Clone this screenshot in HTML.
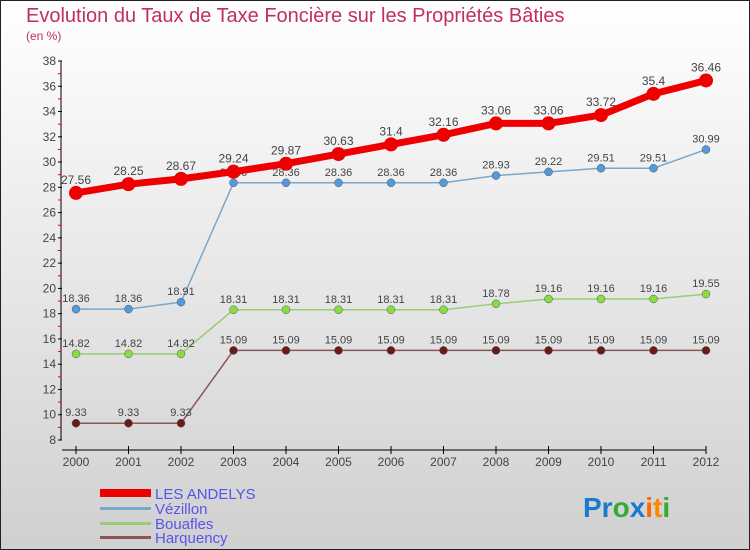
<!DOCTYPE html>
<html><head><meta charset="utf-8"><style>
body{margin:0}
svg{display:block;font-family:"Liberation Sans",sans-serif}
</style></head><body>
<svg id="c" width="750" height="550" xmlns="http://www.w3.org/2000/svg">
<defs><linearGradient id="bg" x1="0" y1="0" x2="0" y2="1"><stop offset="0" stop-color="#ffffff"/><stop offset="1" stop-color="#d0d0d0"/></linearGradient></defs>
<rect x="0.5" y="0.5" width="749" height="549" fill="url(#bg)" stroke="#222"/>
<text x="26" y="22" font-size="20" fill="#c0305a">Evolution du Taux de Taxe Foncière sur les Propriétés Bâties</text>
<text x="26" y="40" font-size="12" fill="#c0305a">(en %)</text>
<g id="axes"></g><g id="series"></g>
<g>
<rect x="100" y="489" width="51" height="8" fill="#e00"/>
<text x="155" y="499" font-size="15" fill="#5555ee">LES ANDELYS</text>
<rect x="100" y="507" width="51" height="3" fill="#7aa8cc"/>
<text x="155" y="514" font-size="15" fill="#5555ee">Vézillon</text>
<rect x="100" y="522" width="51" height="3" fill="#99cc77"/>
<text x="155" y="529" font-size="15" fill="#5555ee">Bouafles</text>
<rect x="100" y="536" width="51" height="3" fill="#8b5555"/>
<text x="155" y="543" font-size="15" fill="#5555ee">Harquency</text>
</g>
<g font-size="28" font-weight="bold">
<text x="583" y="517"><tspan fill="#1a7ad0">Pr</tspan><tspan fill="#33aa33">o</tspan><tspan fill="#1a7ad0">x</tspan><tspan fill="#ff6600">i</tspan><tspan fill="#ff8800">t</tspan><tspan fill="#33aa33">i</tspan></text>
</g>
</svg>
<script>
const years=[2000,2001,2002,2003,2004,2005,2006,2007,2008,2009,2010,2011,2012];
const yTicks=[8,10,12,14,16,18,20,22,24,26,28,30,32,34,36,38];
const andelys=[27.56,28.25,28.67,29.24,29.87,30.63,31.4,32.16,33.06,33.06,33.72,35.4,36.46];
const vezillon=[18.36,18.36,18.91,28.36,28.36,28.36,28.36,28.36,28.93,29.22,29.51,29.51,30.99];
const bouafles=[14.82,14.82,14.82,18.31,18.31,18.31,18.31,18.31,18.78,19.16,19.16,19.16,19.55];
const harquency=[9.33,9.33,9.33,15.09,15.09,15.09,15.09,15.09,15.09,15.09,15.09,15.09,15.09];
const NS="http://www.w3.org/2000/svg";
const xS=i=>76+i*52.5;
const yS=v=>440-(v-8)*(379/30);
function mk(tag,attrs,parent){const e=document.createElementNS(NS,tag);for(const k in attrs)e.setAttribute(k,attrs[k]);parent.appendChild(e);return e;}
const ax=document.getElementById('axes');
let a=mk('line',{x1:61,y1:yS(38),x2:61,y2:yS(8),stroke:'#000'},ax);


a=mk('line',{x1:62,y1:450,x2:706,y2:450,stroke:'#000'},ax);


yTicks.forEach(t=>{
 mk('line',{x1:58,y1:yS(t),x2:62,y2:yS(t),stroke:'#000'},ax);
 if(t<38)mk('line',{x1:58,y1:yS(t+1),x2:61,y2:yS(t+1),stroke:'#e00'},ax);
 const tx=mk('text',{x:56,y:yS(t)+4,'font-size':12,'text-anchor':'end',fill:'#444'},ax);
 tx.textContent=t;
 
 
});
years.forEach((y,i)=>{
 mk('line',{x1:xS(i),y1:446,x2:xS(i),y2:454,stroke:'#000'},ax);
 const tx=mk('text',{x:xS(i),y:466,'font-size':12,'text-anchor':'middle',fill:'#444'},ax);
 tx.textContent=y;
 
 
});
const sg=document.getElementById('series');
function draw(vals,name,col,dot,lw,r,fs){
 const g=mk('g',{},sg);
 
 
 const p=mk('polyline',{points:vals.map((v,i)=>xS(i)+','+yS(v)).join(' '),fill:'none',stroke:col,'stroke-width':lw,'stroke-linejoin':'round'},g);
 
 
 vals.forEach((v,i)=>{
  const c=mk('circle',{cx:xS(i),cy:yS(v),r:r,fill:dot,stroke:lw>3?dot:'#555','stroke-width':lw>3?0:0.5},g);
  
  
  const t=mk('text',{x:xS(i),y:yS(v)-(lw>3?9:7),'font-size':fs,'text-anchor':'middle',fill:'#444'},g);
  t.textContent=v;
  
  
 });
}
draw(harquency,'harquency','#8b5555','#6b1a1a',1.5,4,11);
draw(bouafles,'bouafles','#99cc77','#88dd44',1.5,4,11);
draw(vezillon,'vezillon','#7aa8cc','#5599dd',1.5,4,11);
draw(andelys,'les-andelys','#ee0000','#ee0000',7,7,12);
</script>
</body></html>
